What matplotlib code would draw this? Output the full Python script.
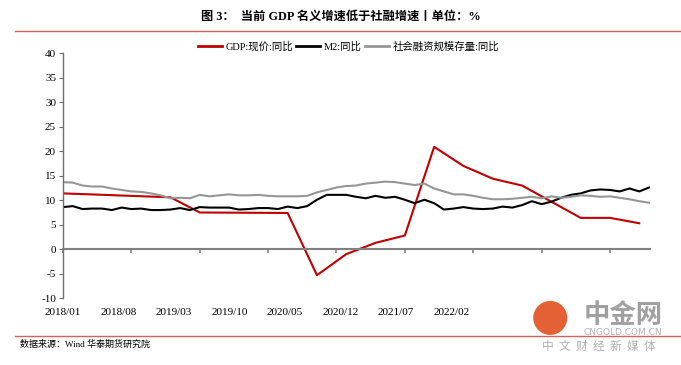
import numpy as np
import matplotlib.pyplot as plt
from matplotlib.patches import Ellipse
from matplotlib.lines import Line2D

plt.rcParams['font.family'] = ['Liberation Serif', 'Noto Sans CJK SC']
plt.rcParams['axes.unicode_minus'] = False

# monthly axis 2018/01 .. 2023/01 (index 0..60)
months = np.arange(61)

m2 = [8.6, 8.8, 8.2, 8.3, 8.3, 8.0, 8.5, 8.2, 8.3, 8.0, 8.0, 8.1,
      8.4, 8.0, 8.6, 8.5, 8.5, 8.5, 8.1, 8.2, 8.4, 8.4, 8.2, 8.7,
      8.4, 8.8, 10.1, 11.1, 11.1, 11.1, 10.7, 10.4, 10.9, 10.5, 10.7, 10.1,
      9.4, 10.1, 9.4, 8.1, 8.3, 8.6, 8.3, 8.2, 8.3, 8.7, 8.5, 9.0,
      9.8, 9.2, 9.7, 10.5, 11.1, 11.4, 12.0, 12.2, 12.1, 11.8, 12.4, 11.8,
      12.6]

tsf = [13.7, 13.6, 13.0, 12.8, 12.8, 12.4, 12.1, 11.8, 11.7, 11.4, 11.0, 10.4,
       10.5, 10.4, 11.1, 10.8, 11.0, 11.2, 11.0, 11.0, 11.1, 10.9, 10.8, 10.8,
       10.8, 10.9, 11.6, 12.1, 12.6, 12.9, 13.0, 13.4, 13.6, 13.8, 13.7, 13.4,
       13.1, 13.4, 12.4, 11.8, 11.2, 11.2, 10.9, 10.5, 10.2, 10.2, 10.3, 10.5,
       10.7, 10.4, 10.8, 10.5, 10.7, 11.0, 10.9, 10.7, 10.8, 10.5, 10.2, 9.8,
       9.5]

# nominal GDP (cumulative yoy), quarterly points
gdp_month = [0, 11, 14, 23, 26, 29, 32, 35, 38, 41, 44, 47, 53, 56, 59]
gdp = [11.4, 10.6, 7.5, 7.4, -5.3, -1.0, 1.3, 2.8, 20.9, 17.0, 14.4, 13.0, 6.4, 6.4, 5.3]

xlabels = ['2018/01', '2018/08', '2019/03', '2019/10', '2020/05', '2020/12', '2021/07', '2022/02']

fig = plt.figure(figsize=(6.81, 3.65), dpi=100)
ax = fig.add_axes([0.0925, 0.183, 0.862, 0.671])

ax.plot(gdp_month, gdp, color='#C00000', lw=1.5)
ax.plot(months, m2, color='black', lw=1.5)
ax.plot(months, tsf, color='#969696', lw=1.5)

ax.set_xlim(0, 60.1)
ax.set_ylim(-10, 40)
ax.set_yticks(np.arange(-10, 41, 5))
ax.set_xticks(np.arange(0, 60, 7))
ax.set_xticklabels([])

for s in ['top', 'right']:
    ax.spines[s].set_visible(False)
ax.spines['bottom'].set_position(('data', 0))
ax.spines['bottom'].set_color('#808080')
ax.spines['bottom'].set_linewidth(1.5)
ax.spines['left'].set_color('#707070')
ax.spines['left'].set_linewidth(1.0)
ax.tick_params(axis='x', direction='out', length=3, color='#808080', width=1.2)
ax.tick_params(axis='y', direction='out', length=3, color='#707070', labelsize=8, pad=2)

# category labels along the bottom (spaced as in the source export)
sec = ax.secondary_xaxis('bottom')
sec.set_xticks(np.arange(len(xlabels)) * 5.68, xlabels)
sec.tick_params(length=0, labelsize=8, pad=7)
sec.spines['bottom'].set_visible(False)

handles = [Line2D([], [], color='#C00000', lw=2),
           Line2D([], [], color='black', lw=2),
           Line2D([], [], color='#969696', lw=2)]
fig.legend(handles, ['GDP:现价:同比', 'M2:同比', '社会融资规模存量:同比'],
           loc='center', bbox_to_anchor=(0.512, 0.872), ncol=3, frameon=False,
           fontsize=7.5, handlelength=2.3, handletextpad=0.35, columnspacing=0.3)

fig.text(0.5, 0.955, '图 3：  当前 GDP 名义增速低于社融增速丨单位：%',
         ha='center', va='center', fontsize=8.8, fontweight='bold')
fig.add_artist(Line2D([0.022, 1.0], [0.915, 0.915], color='#D9605A', lw=1.0))
fig.add_artist(Line2D([0.022, 1.0], [0.079, 0.079], color='#D9605A', lw=1.0))
fig.text(0.03, 0.058, '数据来源：Wind 华泰期货研究院', ha='left', va='center', fontsize=6.5)

# watermark
fig.add_artist(Ellipse((0.808, 0.129), 0.05, 0.05 * 681 / 365, transform=fig.transFigure,
                       facecolor='#E0501E', edgecolor='none', alpha=0.9))
fig.text(0.915, 0.135, '中金网', ha='center', va='center', fontsize=19,
         fontweight='bold', color='#A0A0A0', family='Noto Sans CJK SC')
fig.text(0.915, 0.088, 'CNGOLD.COM.CN', ha='center', va='center', fontsize=6.5,
         color='#B0B0B0', family='DejaVu Sans')
fig.text(0.88, 0.052, '中  文  财  经  新  媒  体', ha='center', va='center', fontsize=8.5,
         color='#B0B0B0', family='Noto Sans CJK SC')

fig.savefig('out.png', dpi=100)
